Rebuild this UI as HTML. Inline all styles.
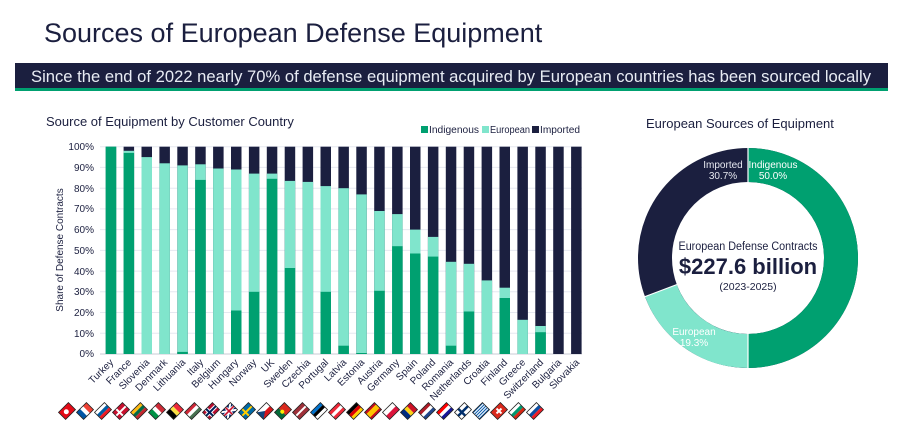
<!DOCTYPE html>
<html><head><meta charset="utf-8"><style>
body{margin:0;background:#fff;}
svg{display:block;font-family:"Liberation Sans",Arial,sans-serif;}
</style></head><body>
<svg width="903" height="443" viewBox="0 0 903 443" xmlns="http://www.w3.org/2000/svg">
<rect width="903" height="443" fill="#fff"/>
<text x="44" y="42" font-size="27" fill="#1b1f3f">Sources of European Defense Equipment</text>
<rect x="15" y="63" width="873" height="26" fill="#1b1f3f"/>
<rect x="15" y="88" width="873" height="3" fill="#00a070"/>
<text x="451" y="82" font-size="16.5" fill="#e8ecf4" text-anchor="middle" textLength="840" lengthAdjust="spacingAndGlyphs">Since the end of 2022 nearly 70% of defense equipment acquired by European countries has been sourced locally</text>

<text x="46" y="126" font-size="13" fill="#1b1f3f">Source of Equipment by Customer Country</text>
<g font-size="10" fill="#1b1f3f">
<rect x="421" y="126" width="7" height="7" fill="#00a070"/><text x="429" y="133" textLength="50" lengthAdjust="spacingAndGlyphs">Indigenous</text>
<rect x="482" y="126" width="7" height="7" fill="#80e5cc"/><text x="490" y="133" textLength="40" lengthAdjust="spacingAndGlyphs">European</text>
<rect x="532" y="126" width="7" height="7" fill="#1b1f3f"/><text x="540" y="133" textLength="40" lengthAdjust="spacingAndGlyphs">Imported</text>
</g>
<g stroke="#e6e8f0" stroke-width="1">
<line x1="100" x2="582" y1="146.7" y2="146.7"/><line x1="100" x2="582" y1="167.4" y2="167.4"/>
<line x1="100" x2="582" y1="188.2" y2="188.2"/><line x1="100" x2="582" y1="208.9" y2="208.9"/>
<line x1="100" x2="582" y1="229.6" y2="229.6"/><line x1="100" x2="582" y1="250.4" y2="250.4"/>
<line x1="100" x2="582" y1="271.1" y2="271.1"/><line x1="100" x2="582" y1="291.8" y2="291.8"/>
<line x1="100" x2="582" y1="312.5" y2="312.5"/><line x1="100" x2="582" y1="333.3" y2="333.3"/>
</g>
<line x1="100" x2="582" y1="354" y2="354" stroke="#c8cbd6"/>
<g font-size="10" fill="#1b1f3f" text-anchor="end">
<text x="94" y="150">100%</text><text x="94" y="171">90%</text><text x="94" y="192">80%</text>
<text x="94" y="212">70%</text><text x="94" y="233">60%</text><text x="94" y="254">50%</text>
<text x="94" y="275">40%</text><text x="94" y="295">30%</text><text x="94" y="316">20%</text>
<text x="94" y="337">10%</text><text x="94" y="357">0%</text>
</g>
<text transform="translate(63,250) rotate(-90)" font-size="10" fill="#1b1f3f" text-anchor="middle">Share of Defense Contracts</text>

<g fill="#1b1f3f">
<rect x="105.7" y="146.7" width="10.5" height="207.3"/><rect x="123.6" y="146.7" width="10.5" height="207.3"/>
<rect x="141.5" y="146.7" width="10.5" height="207.3"/><rect x="159.4" y="146.7" width="10.5" height="207.3"/>
<rect x="177.3" y="146.7" width="10.5" height="207.3"/><rect x="195.2" y="146.7" width="10.5" height="207.3"/>
<rect x="213.1" y="146.7" width="10.5" height="207.3"/><rect x="231.0" y="146.7" width="10.5" height="207.3"/>
<rect x="248.9" y="146.7" width="10.5" height="207.3"/><rect x="266.8" y="146.7" width="10.5" height="207.3"/>
<rect x="284.7" y="146.7" width="10.5" height="207.3"/><rect x="302.6" y="146.7" width="10.5" height="207.3"/>
<rect x="320.5" y="146.7" width="10.5" height="207.3"/><rect x="338.4" y="146.7" width="10.5" height="207.3"/>
<rect x="356.3" y="146.7" width="10.5" height="207.3"/><rect x="374.2" y="146.7" width="10.5" height="207.3"/>
<rect x="392.1" y="146.7" width="10.5" height="207.3"/><rect x="410.0" y="146.7" width="10.5" height="207.3"/>
<rect x="427.9" y="146.7" width="10.5" height="207.3"/><rect x="445.8" y="146.7" width="10.5" height="207.3"/>
<rect x="463.7" y="146.7" width="10.5" height="207.3"/><rect x="481.6" y="146.7" width="10.5" height="207.3"/>
<rect x="499.5" y="146.7" width="10.5" height="207.3"/><rect x="517.4" y="146.7" width="10.5" height="207.3"/>
<rect x="535.3" y="146.7" width="10.5" height="207.3"/><rect x="553.2" y="146.7" width="10.5" height="207.3"/>
<rect x="571.1" y="146.7" width="10.5" height="207.3"/>
</g>
<g fill="#80e5cc">
<rect x="105.7" y="146.7" width="10.5" height="207.3"/><rect x="123.6" y="150.8" width="10.5" height="203.2"/>
<rect x="141.5" y="157.1" width="10.5" height="196.9"/><rect x="159.4" y="163.3" width="10.5" height="190.7"/>
<rect x="177.3" y="165.4" width="10.5" height="188.6"/><rect x="195.2" y="164.3" width="10.5" height="189.7"/>
<rect x="213.1" y="168.5" width="10.5" height="185.5"/><rect x="231.0" y="169.5" width="10.5" height="184.5"/>
<rect x="248.9" y="173.6" width="10.5" height="180.4"/><rect x="266.8" y="173.6" width="10.5" height="180.4"/>
<rect x="284.7" y="180.9" width="10.5" height="173.1"/><rect x="302.6" y="181.9" width="10.5" height="172.1"/>
<rect x="320.5" y="186.1" width="10.5" height="167.9"/><rect x="338.4" y="188.2" width="10.5" height="165.8"/>
<rect x="356.3" y="194.4" width="10.5" height="159.6"/><rect x="374.2" y="211" width="10.5" height="143"/>
<rect x="392.1" y="214.1" width="10.5" height="139.9"/><rect x="410.0" y="229.6" width="10.5" height="124.4"/>
<rect x="427.9" y="236.9" width="10.5" height="117.1"/><rect x="445.8" y="261.8" width="10.5" height="92.2"/>
<rect x="463.7" y="263.8" width="10.5" height="90.2"/><rect x="481.6" y="280.4" width="10.5" height="73.6"/>
<rect x="499.5" y="287.7" width="10.5" height="66.3"/><rect x="517.4" y="319.8" width="10.5" height="34.2"/>
<rect x="535.3" y="326" width="10.5" height="28"/>
</g>
<g fill="#00a070">
<rect x="105.7" y="146.7" width="10.5" height="207.3"/><rect x="123.6" y="152.9" width="10.5" height="201.1"/>
<rect x="177.3" y="351.9" width="10.5" height="2.1"/><rect x="195.2" y="179.9" width="10.5" height="174.1"/>
<rect x="231.0" y="310.5" width="10.5" height="43.5"/><rect x="248.9" y="291.8" width="10.5" height="62.2"/>
<rect x="266.8" y="178.8" width="10.5" height="175.2"/><rect x="284.7" y="268" width="10.5" height="86"/>
<rect x="320.5" y="291.8" width="10.5" height="62.2"/><rect x="338.4" y="345.7" width="10.5" height="8.3"/>
<rect x="356.3" y="353" width="10.5" height="1"/><rect x="374.2" y="290.8" width="10.5" height="63.2"/>
<rect x="392.1" y="246.2" width="10.5" height="107.8"/><rect x="410.0" y="253.5" width="10.5" height="100.5"/>
<rect x="427.9" y="256.6" width="10.5" height="97.4"/><rect x="445.8" y="345.7" width="10.5" height="8.3"/>
<rect x="463.7" y="311.5" width="10.5" height="42.5"/><rect x="499.5" y="298" width="10.5" height="56"/>
<rect x="535.3" y="332.2" width="10.5" height="21.8"/>
</g>
<g font-size="10" fill="#1b1f3f" text-anchor="end">
<text transform="translate(114,363) rotate(-45)">Turkey</text>
<text transform="translate(132,363) rotate(-45)">France</text>
<text transform="translate(150,363) rotate(-45)">Slovenia</text>
<text transform="translate(168,363) rotate(-45)">Denmark</text>
<text transform="translate(186,363) rotate(-45)">Lithuania</text>
<text transform="translate(204,363) rotate(-45)">Italy</text>
<text transform="translate(221,363) rotate(-45)">Belgium</text>
<text transform="translate(239,363) rotate(-45)">Hungary</text>
<text transform="translate(257,363) rotate(-45)">Norway</text>
<text transform="translate(275,363) rotate(-45)">UK</text>
<text transform="translate(293,363) rotate(-45)">Sweden</text>
<text transform="translate(311,363) rotate(-45)">Czechia</text>
<text transform="translate(329,363) rotate(-45)">Portugal</text>
<text transform="translate(347,363) rotate(-45)">Latvia</text>
<text transform="translate(365,363) rotate(-45)">Estonia</text>
<text transform="translate(383,363) rotate(-45)">Austria</text>
<text transform="translate(400,363) rotate(-45)">Germany</text>
<text transform="translate(418,363) rotate(-45)">Spain</text>
<text transform="translate(436,363) rotate(-45)">Poland</text>
<text transform="translate(454,363) rotate(-45)">Romania</text>
<text transform="translate(472,363) rotate(-45)">Netherlands</text>
<text transform="translate(490,363) rotate(-45)">Croatia</text>
<text transform="translate(508,363) rotate(-45)">Finland</text>
<text transform="translate(526,363) rotate(-45)">Greece</text>
<text transform="translate(544,363) rotate(-45)">Switzerland</text>
<text transform="translate(562,363) rotate(-45)">Bulgaria</text>
<text transform="translate(580,363) rotate(-45)">Slovakia</text>
</g>

<defs>
<clipPath id="fc"><rect x="-7" y="-5" width="14" height="10"/></clipPath>
</defs>
<g stroke="none">
<g transform="translate(67,411) rotate(-45)" clip-path="url(#fc)"><rect x="-7" y="-5" width="14" height="10" fill="#e30a17"/><circle cx="-1" cy="0" r="2.5" fill="#fff"/></g>
<g transform="translate(85,411) rotate(-45)" clip-path="url(#fc)"><rect x="-7" y="-5" width="5" height="10" fill="#0055a4"/><rect x="-2" y="-5" width="4" height="10" fill="#fff"/><rect x="2" y="-5" width="5" height="10" fill="#ef4135"/></g>
<g transform="translate(103,411) rotate(-45)" clip-path="url(#fc)"><rect x="-7" y="-5" width="14" height="3.4" fill="#fff"/><rect x="-7" y="-1.6" width="14" height="3.3" fill="#005da4"/><rect x="-7" y="1.7" width="14" height="3.3" fill="#ed1c24"/></g>
<g transform="translate(121,411) rotate(-45)" clip-path="url(#fc)"><rect x="-7" y="-5" width="14" height="10" fill="#c8102e"/><rect x="-3" y="-5" width="2" height="10" fill="#fff"/><rect x="-7" y="-1" width="14" height="2" fill="#fff"/></g>
<g transform="translate(139,411) rotate(-45)" clip-path="url(#fc)"><rect x="-7" y="-5" width="14" height="3.4" fill="#fdb913"/><rect x="-7" y="-1.6" width="14" height="3.3" fill="#006a44"/><rect x="-7" y="1.7" width="14" height="3.3" fill="#c1272d"/></g>
<g transform="translate(157,411) rotate(-45)" clip-path="url(#fc)"><rect x="-7" y="-5" width="5" height="10" fill="#009246"/><rect x="-2" y="-5" width="4" height="10" fill="#fff"/><rect x="2" y="-5" width="5" height="10" fill="#ce2b37"/></g>
<g transform="translate(175,411) rotate(-45)" clip-path="url(#fc)"><rect x="-7" y="-5" width="5" height="10" fill="#000"/><rect x="-2" y="-5" width="4" height="10" fill="#fae042"/><rect x="2" y="-5" width="5" height="10" fill="#ed2939"/></g>
<g transform="translate(193,411) rotate(-45)" clip-path="url(#fc)"><rect x="-7" y="-5" width="14" height="3.4" fill="#ce2939"/><rect x="-7" y="-1.6" width="14" height="3.3" fill="#fff"/><rect x="-7" y="1.7" width="14" height="3.3" fill="#477050"/></g>
<g transform="translate(211,411) rotate(-45)" clip-path="url(#fc)"><rect x="-7" y="-5" width="14" height="10" fill="#ba0c2f"/><rect x="-4" y="-5" width="4" height="10" fill="#fff"/><rect x="-7" y="-2" width="14" height="4" fill="#fff"/><rect x="-3" y="-5" width="2" height="10" fill="#00205b"/><rect x="-7" y="-1" width="14" height="2" fill="#00205b"/></g>
<g transform="translate(229,411) rotate(-45)" clip-path="url(#fc)"><rect x="-7" y="-5" width="14" height="10" fill="#012169"/><path d="M-7 -5L7 5M7 -5L-7 5" stroke="#fff" stroke-width="2"/><rect x="-1.5" y="-5" width="3" height="10" fill="#fff"/><rect x="-7" y="-1.5" width="14" height="3" fill="#fff"/><rect x="-0.8" y="-5" width="1.6" height="10" fill="#c8102e"/><rect x="-7" y="-0.8" width="14" height="1.6" fill="#c8102e"/></g>
<g transform="translate(247,411) rotate(-45)" clip-path="url(#fc)"><rect x="-7" y="-5" width="14" height="10" fill="#006aa7"/><rect x="-3" y="-5" width="2" height="10" fill="#fecc00"/><rect x="-7" y="-1" width="14" height="2" fill="#fecc00"/></g>
<g transform="translate(265,411) rotate(-45)" clip-path="url(#fc)"><rect x="-7" y="-5" width="14" height="5" fill="#fff"/><rect x="-7" y="0" width="14" height="5" fill="#d7141a"/><path d="M-7 -5L0 0L-7 5Z" fill="#11457e"/></g>
<g transform="translate(283,411) rotate(-45)" clip-path="url(#fc)"><rect x="-7" y="-5" width="6" height="10" fill="#046a38"/><rect x="-1" y="-5" width="8" height="10" fill="#da291c"/><circle cx="-1" cy="0" r="2" fill="#ffe900"/></g>
<g transform="translate(301,411) rotate(-45)" clip-path="url(#fc)"><rect x="-7" y="-5" width="14" height="10" fill="#9e3039"/><rect x="-7" y="-1" width="14" height="2" fill="#fff"/></g>
<g transform="translate(319,411) rotate(-45)" clip-path="url(#fc)"><rect x="-7" y="-5" width="14" height="3.4" fill="#0072ce"/><rect x="-7" y="-1.6" width="14" height="3.3" fill="#000"/><rect x="-7" y="1.7" width="14" height="3.3" fill="#fff"/></g>
<g transform="translate(337,411) rotate(-45)" clip-path="url(#fc)"><rect x="-7" y="-5" width="14" height="10" fill="#ed2939"/><rect x="-7" y="-1.6" width="14" height="3.3" fill="#fff"/></g>
<g transform="translate(355,411) rotate(-45)" clip-path="url(#fc)"><rect x="-7" y="-5" width="14" height="3.4" fill="#000"/><rect x="-7" y="-1.6" width="14" height="3.3" fill="#dd0000"/><rect x="-7" y="1.7" width="14" height="3.3" fill="#ffce00"/></g>
<g transform="translate(373,411) rotate(-45)" clip-path="url(#fc)"><rect x="-7" y="-5" width="14" height="10" fill="#c60b1e"/><rect x="-7" y="-2.5" width="14" height="5" fill="#ffc400"/></g>
<g transform="translate(391,411) rotate(-45)" clip-path="url(#fc)"><rect x="-7" y="-5" width="14" height="5" fill="#fff"/><rect x="-7" y="0" width="14" height="5" fill="#dc143c"/></g>
<g transform="translate(409,411) rotate(-45)" clip-path="url(#fc)"><rect x="-7" y="-5" width="5" height="10" fill="#002b7f"/><rect x="-2" y="-5" width="4" height="10" fill="#fcd116"/><rect x="2" y="-5" width="5" height="10" fill="#ce1126"/></g>
<g transform="translate(427,411) rotate(-45)" clip-path="url(#fc)"><rect x="-7" y="-5" width="14" height="3.4" fill="#ae1c28"/><rect x="-7" y="-1.6" width="14" height="3.3" fill="#fff"/><rect x="-7" y="1.7" width="14" height="3.3" fill="#21468b"/></g>
<g transform="translate(445,411) rotate(-45)" clip-path="url(#fc)"><rect x="-7" y="-5" width="14" height="3.4" fill="#ff0000"/><rect x="-7" y="-1.6" width="14" height="3.3" fill="#fff"/><rect x="-7" y="1.7" width="14" height="3.3" fill="#171796"/></g>
<g transform="translate(463,411) rotate(-45)" clip-path="url(#fc)"><rect x="-7" y="-5" width="14" height="10" fill="#fff"/><rect x="-3" y="-5" width="2.5" height="10" fill="#002f6c"/><rect x="-7" y="-1.2" width="14" height="2.5" fill="#002f6c"/></g>
<g transform="translate(481,411) rotate(-45)" clip-path="url(#fc)"><rect x="-7" y="-5" width="14" height="10" fill="#fff"/><rect x="-7" y="-5" width="14" height="1.1" fill="#0d5eaf"/><rect x="-7" y="-2.8" width="14" height="1.1" fill="#0d5eaf"/><rect x="-7" y="-0.6" width="14" height="1.1" fill="#0d5eaf"/><rect x="-7" y="1.6" width="14" height="1.1" fill="#0d5eaf"/><rect x="-7" y="3.8" width="14" height="1.2" fill="#0d5eaf"/></g>
<g transform="translate(499,411) rotate(-45)" clip-path="url(#fc)"><rect x="-7" y="-5" width="14" height="10" fill="#da291c"/><rect x="-1" y="-3.5" width="2" height="7" fill="#fff"/><rect x="-3.5" y="-1" width="7" height="2" fill="#fff"/></g>
<g transform="translate(517,411) rotate(-45)" clip-path="url(#fc)"><rect x="-7" y="-5" width="14" height="3.4" fill="#fff"/><rect x="-7" y="-1.6" width="14" height="3.3" fill="#00966e"/><rect x="-7" y="1.7" width="14" height="3.3" fill="#d62612"/></g>
<g transform="translate(535,411) rotate(-45)" clip-path="url(#fc)"><rect x="-7" y="-5" width="14" height="3.4" fill="#fff"/><rect x="-7" y="-1.6" width="14" height="3.3" fill="#0b4ea2"/><rect x="-7" y="1.7" width="14" height="3.3" fill="#ee1c25"/></g>
</g>
<g fill="none" stroke="#222" stroke-width="0.8">
<rect transform="translate(67,411) rotate(-45)" x="-7" y="-5" width="14" height="10"/>
<rect transform="translate(85,411) rotate(-45)" x="-7" y="-5" width="14" height="10"/>
<rect transform="translate(103,411) rotate(-45)" x="-7" y="-5" width="14" height="10"/>
<rect transform="translate(121,411) rotate(-45)" x="-7" y="-5" width="14" height="10"/>
<rect transform="translate(139,411) rotate(-45)" x="-7" y="-5" width="14" height="10"/>
<rect transform="translate(157,411) rotate(-45)" x="-7" y="-5" width="14" height="10"/>
<rect transform="translate(175,411) rotate(-45)" x="-7" y="-5" width="14" height="10"/>
<rect transform="translate(193,411) rotate(-45)" x="-7" y="-5" width="14" height="10"/>
<rect transform="translate(211,411) rotate(-45)" x="-7" y="-5" width="14" height="10"/>
<rect transform="translate(229,411) rotate(-45)" x="-7" y="-5" width="14" height="10"/>
<rect transform="translate(247,411) rotate(-45)" x="-7" y="-5" width="14" height="10"/>
<rect transform="translate(265,411) rotate(-45)" x="-7" y="-5" width="14" height="10"/>
<rect transform="translate(283,411) rotate(-45)" x="-7" y="-5" width="14" height="10"/>
<rect transform="translate(301,411) rotate(-45)" x="-7" y="-5" width="14" height="10"/>
<rect transform="translate(319,411) rotate(-45)" x="-7" y="-5" width="14" height="10"/>
<rect transform="translate(337,411) rotate(-45)" x="-7" y="-5" width="14" height="10"/>
<rect transform="translate(355,411) rotate(-45)" x="-7" y="-5" width="14" height="10"/>
<rect transform="translate(373,411) rotate(-45)" x="-7" y="-5" width="14" height="10"/>
<rect transform="translate(391,411) rotate(-45)" x="-7" y="-5" width="14" height="10"/>
<rect transform="translate(409,411) rotate(-45)" x="-7" y="-5" width="14" height="10"/>
<rect transform="translate(427,411) rotate(-45)" x="-7" y="-5" width="14" height="10"/>
<rect transform="translate(445,411) rotate(-45)" x="-7" y="-5" width="14" height="10"/>
<rect transform="translate(463,411) rotate(-45)" x="-7" y="-5" width="14" height="10"/>
<rect transform="translate(481,411) rotate(-45)" x="-7" y="-5" width="14" height="10"/>
<rect transform="translate(499,411) rotate(-45)" x="-7" y="-5" width="14" height="10"/>
<rect transform="translate(517,411) rotate(-45)" x="-7" y="-5" width="14" height="10"/>
<rect transform="translate(535,411) rotate(-45)" x="-7" y="-5" width="14" height="10"/>
</g>

<text x="646" y="128" font-size="13" fill="#1b1f3f">European Sources of Equipment</text>
<g transform="translate(748,258) rotate(-90)" fill="none" stroke-width="34">
<circle r="93" stroke="#1b1f3f"/>
<circle r="93" stroke="#00a070" stroke-dasharray="292.2 292.1"/>
<circle r="93" stroke="#80e5cc" stroke-dasharray="0 292.2 112.8 179.3"/>
</g>
<g stroke="#fff" stroke-width="1.2">
<line x1="748" y1="147" x2="748" y2="183"/>
<line x1="748" y1="333" x2="748" y2="369"/>
<line x1="677" y1="284.5" x2="644" y2="297"/>
</g>
<g font-size="10" text-anchor="middle" fill="#fff">
<text x="773" y="168">Indigenous</text><text x="773" y="179">50.0%</text>
<text x="723" y="168" fill="#e6e8f0">Imported</text><text x="723" y="179" fill="#e6e8f0">30.7%</text>
<text x="694" y="335">European</text><text x="694" y="346">19.3%</text>
</g>
<text x="748" y="250" font-size="11.5" fill="#1b1f3f" text-anchor="middle" textLength="139" lengthAdjust="spacingAndGlyphs">European Defense Contracts</text>
<text x="748" y="274" font-size="22" font-weight="bold" fill="#1b1f3f" text-anchor="middle">$227.6 billion</text>
<text x="748" y="290" font-size="10.5" fill="#1b1f3f" text-anchor="middle">(2023-2025)</text>
</svg>
</body></html>
